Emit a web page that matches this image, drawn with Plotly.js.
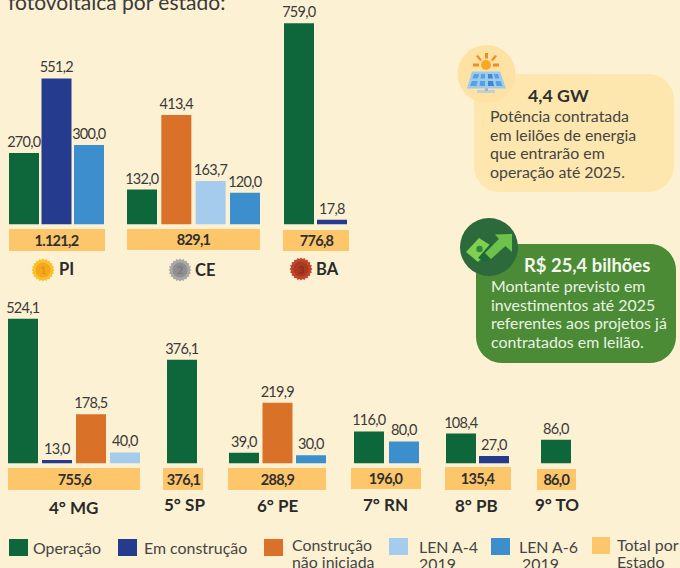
<!DOCTYPE html>
<html lang="pt">
<head>
<meta charset="utf-8">
<script src="https://cdn.plot.ly/plotly-3.0.1.min.js"></script>
<style>html,body{margin:0;padding:0;background:#FDF1D3}#chart{width:680px;height:568px}
.bartext{letter-spacing:-0.7px}</style>
</head>
<body>
<div id="chart"></div>
<script>
// ---------- DATA ----------
const states = ['PI','CE','BA','MG','SP','PE','RN','PB','TO'];
const stateLabels = ['PI','CE','BA','4° MG','5° SP','6° PE','7° RN','8° PB','9° TO'];
const seriesNames = ['Operação','Em construção','Construção não iniciada','LEN A-4 2019','LEN A-6 2019'];
const operacao    = [270.0,132.0,759.0,524.1,376.1,39.0,116.0,108.4,86.0];
const emConstrucao= [551.2,null,17.8,13.0,null,null,null,27.0,null];
const naoIniciada = [null,413.4,null,178.5,null,219.9,null,null,null];
const lenA4       = [null,163.7,null,40.0,null,null,null,null,null];
const lenA6       = [300.0,120.0,null,null,null,30.0,80.0,null,null];
const totals      = [1121.2,829.1,776.8,755.6,376.1,288.9,196.0,135.4,86.0];

// ---------- STYLE / LAYOUT ----------
const W = 680, H = 568;
const BG = '#FDF1D3', INK = '#3A3A3A', FONT = 'Lato, "Open Sans", sans-serif';
const seriesColors = ['#0E673B','#253B8E','#D97228','#A5CCEC','#3D8ECD'];
const TOTAL_COLOR = '#FDC66B';
const BAR_PX = 30;
const groupSpan = [[9,104],[127,260],[284,347],[8,140],[167,197],[229,326],[354,419],[446,509],[541,571]];
const totalBox  = [[9,105,229,251],[127,260,229,250],[283,349,230,251],[8,140,468,490],[163,203,468,490],[228,326,468,490],[351,421,468,489],[445,511,467,490],[537,576,469,490]];
const labelPos  = [[66.5,269],[204.5,270],[327.5,269],[73,507],[184,504],[278,505],[385,504],[477,505],[557,504]];
const rows = [{base:224.5,scale:0.265,max:800,count:3},{base:463.5,scale:0.276,max:550,count:6}];

const px = x => x / W, py = y => 1 - y / H;
const fmt = v => v.toLocaleString('pt-BR',{minimumFractionDigits:1,maximumFractionDigits:1});
const allSeries = [operacao,emConstrucao,naoIniciada,lenA4,lenA6];

// ---------- TRACES + AXES ----------
const traces = [], layout = {
  width:W, height:H, margin:{l:0,r:0,t:0,b:0}, paper_bgcolor:BG, plot_bgcolor:'rgba(0,0,0,0)',
  showlegend:false, font:{family:FONT,color:INK}, shapes:[], annotations:[], hovermode:false
};
rows.forEach((r,i) => {
  const key = i === 0 ? 'yaxis' : 'yaxis2';
  layout[key] = {domain:[py(r.base), py(r.base - r.scale*r.max)], range:[0,r.max], visible:false, fixedrange:true,
                 anchor: i === 0 ? 'x' : 'x4'};
});
states.forEach((st,i) => {
  const idx = allSeries.map((s,k)=>s[i]===null?-1:k).filter(k=>k>=0);
  const xs = idx.map(k=>seriesNames[k]), ys = idx.map(k=>allSeries[k][i]);
  const [L,R] = groupSpan[i], n = idx.length;
  const pitch = n > 1 ? (R-L-BAR_PX)/(n-1) : BAR_PX;
  const pad = (pitch-BAR_PX)/2;
  const rowIdx = i < rows[0].count ? 0 : 1;
  const xName = i === 0 ? 'xaxis' : 'xaxis'+(i+1);
  layout[xName] = {domain:[px(L-pad),px(R+pad)], type:'category', categoryorder:'array', categoryarray:xs,
                   range:[-0.5,n-0.5], visible:false, fixedrange:true, anchor: rowIdx===0?'y':'y2'};
  traces.push({type:'bar', name:st, x:xs, y:ys, xaxis:i===0?'x':'x'+(i+1), yaxis:rowIdx===0?'y':'y2',
    width:BAR_PX/pitch, marker:{color:idx.map(k=>seriesColors[k]),line:{width:0}},
    text:ys.map(fmt), textposition:'outside', cliponaxis:false, constraintext:'none',
    textfont:{family:FONT,size:14.5,color:INK}, hoverinfo:'skip'});
});

// ---------- HELPERS ----------
const S = layout.shapes, A = layout.annotations;
function txt(x,y,t,o={}){A.push({xref:'paper',yref:'paper',x:px(o.anchor==='center'?x:x-1),y:py(y),text:t,showarrow:false,
  xanchor:o.anchor||'left',yanchor:'middle',align:o.anchor==='center'?'center':'left',
  font:{family:FONT,size:o.size||15.9,color:o.color||INK},borderpad:0});}
function path(d,fill,extra={}){S.push(Object.assign({type:'path',path:d,fillcolor:fill,line:{width:0},xref:'paper',yref:'paper'},extra));}
const P = pts => 'M'+pts.map(p=>px(p[0]).toFixed(5)+','+py(p[1]).toFixed(5)).join('L')+'Z';
function rect(x0,x1,y0,y1,fill){S.push({type:'rect',xref:'paper',yref:'paper',x0:px(x0),x1:px(x1),y0:py(y1),y1:py(y0),fillcolor:fill,line:{width:0}});}
function circle(cx,cy,r,fill){S.push({type:'circle',xref:'paper',yref:'paper',x0:px(cx-r),x1:px(cx+r),y0:py(cy+r),y1:py(cy-r),fillcolor:fill,line:{width:0}});}
function rrect(x0,x1,y0,y1,r,fill){
  const pts=[]; const arc=(cx,cy,a0)=>{for(let k=0;k<=10;k++){const a=a0+k/10*Math.PI/2;pts.push([cx+r*Math.cos(a),cy+r*Math.sin(a)]);}};
  arc(x1-r,y1-r,0);arc(x0+r,y1-r,Math.PI/2);arc(x0+r,y0+r,Math.PI);arc(x1-r,y0+r,Math.PI*1.5);path(P(pts),fill);
}
function star(cx,cy,r1,r2,n,fill){const pts=[];for(let k=0;k<2*n;k++){const a=k*Math.PI/n,r=k%2?r2:r1;pts.push([cx+r*Math.cos(a),cy+r*Math.sin(a)]);}path(P(pts),fill);}

// ---------- TOTAL BANDS + STATE LABELS ----------
const totalTexts = totals.map(fmt);
states.forEach((st,i)=>{
  const [x0,x1,y0,y1]=totalBox[i];
  rect(x0,x1,y0,y1,TOTAL_COLOR);
  txt((x0+x1)/2,(y0+y1)/2,'<b>'+totalTexts[i]+'</b>',{anchor:'center',size:14.5,color:'#2F2F2F'});
  txt(labelPos[i][0],labelPos[i][1],'<b>'+stateLabels[i]+'</b>',{anchor:'center',size:i<3?16.5:17,color:'#2A2A2A'});
});

// medals
[[43,270,'#FBC02D','#F6A81C','#E8960F','1'],[180,270,'#A9A9A9','#8F8F8F','#7A7A7A','2'],[301,269,'#C2452C','#A83A22','#8C2C18','3']]
 .forEach(m=>{star(m[0],m[1],11.5,10,20,m[2]);circle(m[0],m[1],7.5,m[3]);txt(m[0],m[1],'<b>'+m[5]+'</b>',{anchor:'center',size:11,color:m[4]});});

// ---------- TITLE (cropped by the page top) ----------
txt(8,2,'fotovoltaica por estado:',{size:21,color:INK});

// ---------- CALLOUT 1 ----------
rrect(474,674,74,192,26,'#FEE7AE');
circle(486.5,74,29,'#FDE2A3');
[[473,479,63.5,66.5],[493,499,63.5,66.5],[485,488,53,58.5]].forEach(r=>rect(r[0],r[1],r[2],r[3],'#F58A1F'));
path(P([[476,56],[478,55],[482,60],[480,61]]),'#F58A1F');
path(P([[495,55],[497,56],[493,61],[491,60]]),'#F58A1F');
circle(486,65,5,'#F9A825');
rect(477,495,90,93,'#C9CCD2');
rect(485,488,87,91,'#9FB4C8');
path(P([[472,71.5],[500,71.5],[506,88.5],[467,88.5]]),'#9CCBF0');
path(P([[474,74],[479,74],[478,78.5],[472.5,78.5]]),'#5A9FDF');
path(P([[481,74],[485,74],[485,78.5],[480.5,78.5]]),'#5A9FDF');
path(P([[488,74],[492,74],[493,78.5],[488,78.5]]),'#3F86CF');
path(P([[494,74],[498,74],[499.5,78.5],[495,78.5]]),'#5A9FDF');
path(P([[472,81],[477.5,81],[476.5,86],[470,86]]),'#5A9FDF');
path(P([[480,81],[485,81],[485,86],[479.5,86]]),'#5A9FDF');
path(P([[488,81],[493,81],[494,86],[488,86]]),'#3F86CF');
path(P([[495.5,81],[500.5,81],[502.5,86],[496.5,86]]),'#5A9FDF');
txt(558,95,'<b>4,4 GW</b>',{anchor:'center',size:17.8,color:'#2F2F2F'});
['Potência contratada','em leilões de energia','que entrarão em','operação até 2025.'].forEach((t,i)=>txt(490,[115.5,134,153,171.5][i],t,{color:'#444444'}));

// ---------- CALLOUT 2 ----------
rrect(476,676,244,363,26,'#4C8B35');
circle(489,247,29,'#2D6A3B');
path(P([[466,252],[479,238],[493,247],[478,262]]),'#7FD14F');
circle(479.5,249,3.2,'#2D8A3C');
path(P([[478,258],[491,243],[497,249],[486,262]]),'#1F6B35');
path(P([[495,234.5],[512,234],[512,252],[505.5,246],[491,259],[485,253],[499,239]]),'#6CC24A');
txt(587,265,'<b>R$ 25,4 bilhões</b>',{anchor:'center',size:18.4,color:'#F3F7EE'});
['Montante previsto em','investimentos até 2025','referentes aos projetos já','contratados em leilão.'].forEach((t,i)=>txt(491,[285,304,322,341][i],t,{color:'#EAF3E4'}));

// ---------- LEGEND ----------
const legendBoxes = [[9,28,539,556],[118,137,539,556],[264,283,539,556],[389,408,538,555],[491,510,538,555],[592,610,537,554]];
const legendFill = seriesColors.concat([TOTAL_COLOR]);
legendBoxes.forEach((b,i)=>rect(b[0],b[1],b[2],b[3],legendFill[i]));
[[33,547,'Operação'],[144,547,'Em construção'],[292,544,'Construção'],[292,561,'não iniciada'],[419,546,'LEN A-4'],[419,563,'2019'],
 [519,546,'LEN A-6'],[522,563,'2019'],[617,544,'Total por'],[617,561,'Estado']]
 .forEach(t=>txt(t[0],t[1],t[2],{color:'#444444'}));

Plotly.newPlot('chart',traces,layout,{staticPlot:true,displayModeBar:false}).then(gd=>{
  // the reference sets its numeric labels tight
  gd.querySelectorAll('.annotation-text').forEach(el=>{
    if(totalTexts.includes(el.textContent)) el.style.letterSpacing='-0.7px';
  });
});
</script>
</body>
</html>
